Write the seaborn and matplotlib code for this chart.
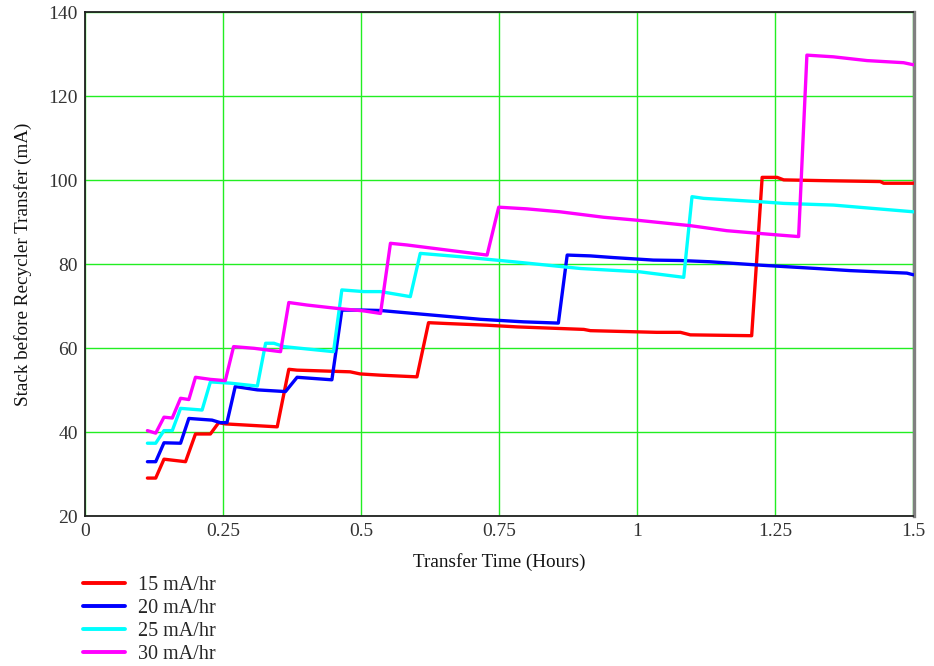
import matplotlib
matplotlib.use("Agg")
import matplotlib.pyplot as plt
from matplotlib.lines import Line2D
import seaborn as sns
import pandas as pd

# ---- data ----
series_labels = ["15 mA/hr", "20 mA/hr", "25 mA/hr", "30 mA/hr"]
series_colors = ["#ff0000", "#0000ff", "#00ffff", "#ff00ff"]

red_x = [0.113, 0.128, 0.143, 0.182, 0.200, 0.227, 0.242, 0.254, 0.348, 0.369, 0.384, 0.480, 0.498,
         0.535, 0.601, 0.622, 0.655, 0.728, 0.782, 0.903, 0.915, 1.035, 1.078, 1.096, 1.207, 1.226,
         1.253, 1.265, 1.343, 1.440, 1.446, 1.500]
red_y = [29.1, 29.1, 33.6, 33.0, 39.6, 39.6, 42.3, 42.0, 41.3, 55.0, 54.8, 54.4, 53.9,
         53.6, 53.2, 66.1, 65.9, 65.5, 65.1, 64.5, 64.2, 63.8, 63.8, 63.2, 63.0, 100.7,
         100.7, 100.1, 99.9, 99.7, 99.3, 99.3]

blue_x = [0.113, 0.128, 0.143, 0.173, 0.188, 0.230, 0.245, 0.257, 0.272, 0.312, 0.363, 0.384, 0.447,
          0.465, 0.505, 0.535, 0.595, 0.716, 0.794, 0.857, 0.873, 0.915, 0.957, 1.029, 1.078, 1.132,
          1.222, 1.325, 1.385, 1.488, 1.500]
blue_y = [33.0, 33.0, 37.5, 37.4, 43.3, 42.9, 42.3, 42.3, 50.9, 50.1, 49.7, 53.1, 52.5,
          69.1, 69.1, 69.0, 68.3, 66.9, 66.3, 66.0, 82.2, 82.0, 81.6, 81.0, 80.9, 80.6,
          79.8, 79.0, 78.5, 77.9, 77.5]

cyan_x = [0.113, 0.128, 0.143, 0.158, 0.173, 0.212, 0.227, 0.263, 0.312, 0.327, 0.342, 0.360, 0.450,
          0.465, 0.505, 0.535, 0.589, 0.607, 0.680, 0.776, 0.897, 1.005, 1.078, 1.084, 1.099, 1.120,
          1.222, 1.265, 1.355, 1.427, 1.500]
cyan_y = [37.4, 37.4, 40.4, 40.4, 45.7, 45.3, 52.0, 51.7, 51.0, 61.2, 61.2, 60.4, 59.2,
          73.9, 73.5, 73.5, 72.3, 82.6, 81.8, 80.6, 79.0, 78.2, 77.0, 76.9, 96.1, 95.7,
          94.9, 94.5, 94.1, 93.3, 92.5]

mag_x = [0.113, 0.128, 0.143, 0.158, 0.173, 0.188, 0.200, 0.227, 0.254, 0.269, 0.306, 0.354, 0.369,
         0.402, 0.456, 0.505, 0.535, 0.553, 0.583, 0.655, 0.728, 0.749, 0.800, 0.860, 0.939, 0.999,
         1.096, 1.162, 1.253, 1.292, 1.307, 1.355, 1.416, 1.482, 1.500]
mag_y = [40.4, 39.8, 43.6, 43.4, 48.1, 47.8, 53.1, 52.6, 52.3, 60.4, 60.0, 59.2, 70.9,
         70.3, 69.5, 68.9, 68.3, 85.0, 84.6, 83.4, 82.2, 93.6, 93.2, 92.5, 91.2, 90.5,
         89.2, 88.0, 87.0, 86.6, 129.8, 129.4, 128.5, 128.0, 127.5]

x_ticks = [0, 0.25, 0.5, 0.75, 1, 1.25, 1.5]
x_tick_labels = ["0", "0.25", "0.5", "0.75", "1", "1.25", "1.5"]
y_ticks = [20, 40, 60, 80, 100, 120, 140]

frames = []
for lab, xs, ys in zip(series_labels, [red_x, blue_x, cyan_x, mag_x], [red_y, blue_y, cyan_y, mag_y]):
    frames.append(pd.DataFrame({"t": xs, "v": ys, "series": lab}))
df = pd.concat(frames, ignore_index=True)

sns.set_theme(style="white")
plt.rcParams["font.family"] = ["Liberation Serif", "DejaVu Serif"]

fig = plt.figure(figsize=(9.34, 6.66), dpi=100)
ax = fig.add_axes([85 / 934, 1 - 516.3 / 666, (913.5 - 85) / 934, (516.3 - 12.3) / 666])

sns.lineplot(data=df, x="t", y="v", hue="series", hue_order=series_labels,
             palette=series_colors, estimator=None, sort=False, linewidth=2.4,
             legend=False, ax=ax, zorder=3)

ax.set_xlim(0, 1.5)
ax.set_ylim(20, 140)
ax.set_xticks(x_ticks)
ax.set_xticklabels(x_tick_labels)
ax.set_yticks(y_ticks)
ax.grid(True, color="#22ee22", linewidth=1.0, zorder=1)
ax.tick_params(axis="both", length=0, labelsize=14, colors="#333333", pad=5)

for side in ["left", "bottom", "top"]:
    ax.spines[side].set_color("#202020")
    ax.spines[side].set_linewidth(1.3)
ax.spines["right"].set_color("#808080")
ax.spines["right"].set_linewidth(2.4)

ax.set_xlabel("Transfer Time (Hours)", fontsize=13.8, color="#111111", labelpad=9)
ax.set_ylabel("Stack before Recycler Transfer (mA)", fontsize=13.8, color="#111111", labelpad=12)

handles = [Line2D([0], [0], color=c, linewidth=2.8) for c in series_colors]
fig.legend(handles, series_labels, loc="upper left", bbox_to_anchor=(83 / 934, 1 - 576 / 666),
           frameon=False, fontsize=14.5, handlelength=2.1, handletextpad=0.62,
           labelspacing=0.2, borderpad=0, borderaxespad=0)

fig.savefig("out.png", dpi=100)
